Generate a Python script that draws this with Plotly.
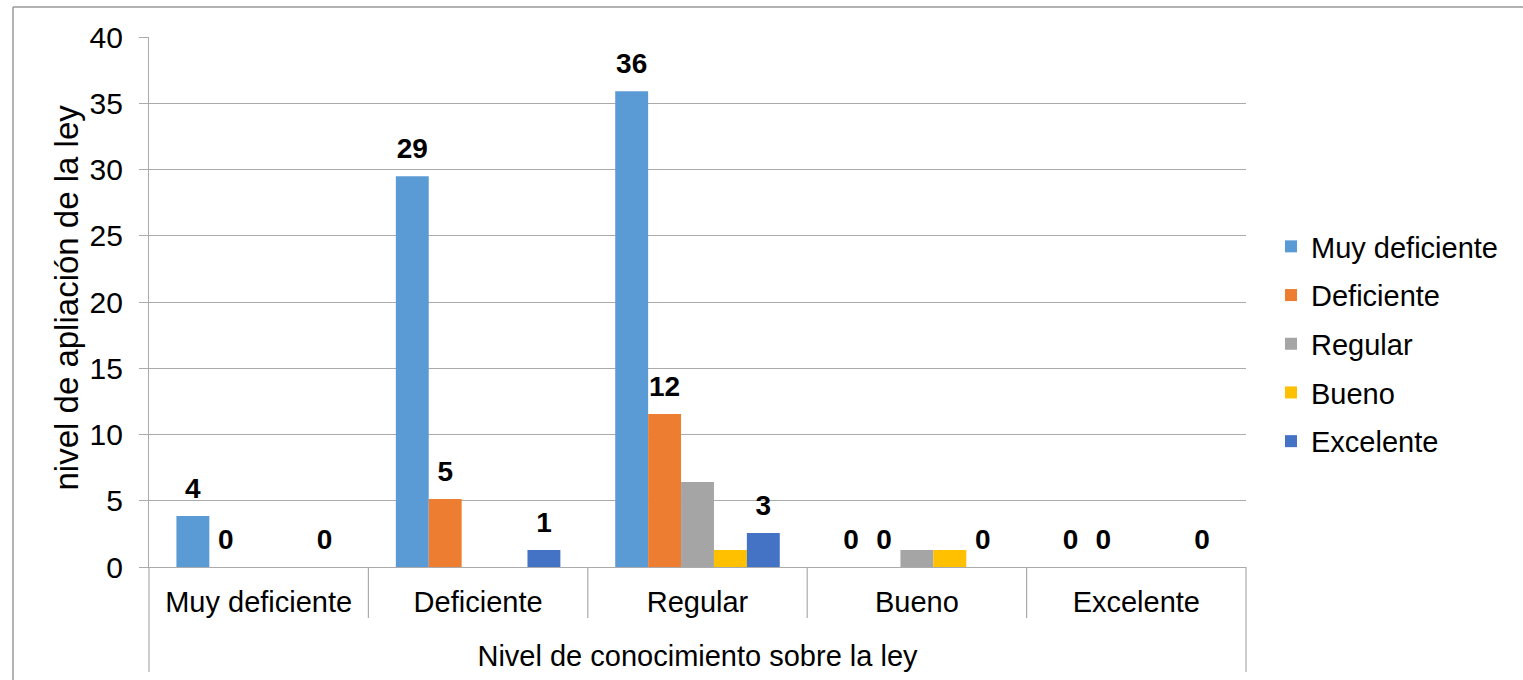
import plotly.graph_objects as go

categories = ["Muy deficiente", "Deficiente", "Regular", "Bueno", "Excelente"]
series_names = ["Muy deficiente", "Deficiente", "Regular", "Bueno", "Excelente"]
muy_deficiente = [3.85, 29.49, 35.90, 0, 0]
deficiente = [0, 5.13, 11.54, 0, 0]
regular = [0, 0, 6.41, 1.28, 0]
bueno = [0, 0, 1.28, 1.28, 0]
excelente = [0, 1.28, 2.56, 0, 0]
series_values = [muy_deficiente, deficiente, regular, bueno, excelente]
colors = ["#5B9BD5", "#ED7D31", "#A5A5A5", "#FFC000", "#4472C4"]
show_labels = [True, True, False, False, True]

y_title = "nivel de apliación de la ley"
x_title = "Nivel de conocimiento sobre la ley"

FONT = "Liberation Sans, Arial, sans-serif"
FS = 29
W, H = 1523, 680
L, R, T, B = 149, 1246, 37, 567
pw, ph = R - L, B - T

def px(x):
    return (x - L) / pw

def py(y):
    return (B - y) / ph

fig = go.Figure()
for i, (name, vals) in enumerate(zip(series_names, series_values)):
    fig.add_trace(go.Bar(
        x=categories, y=vals, name=name,
        marker=dict(color=colors[i], line=dict(width=0)),
        legendgroup=f"g{i}",
    ))
# data labels, grouped the same way as the bars
for i, (name, vals) in enumerate(zip(series_names, series_values)):
    fig.add_trace(go.Scatter(
        x=categories, y=vals, name=name + " labels",
        mode="markers+text" if show_labels[i] else "markers",
        texttemplate="<b>%{y:.0f}</b>" if show_labels[i] else None,
        textposition="top center",
        textfont=dict(family=FONT, size=FS - 1, color="black"),
        marker=dict(size=16, opacity=0, color="white"),
        showlegend=False, hoverinfo="skip",
        cliponaxis=False,
    ))

grid = "#ABABAB"
shapes = []
# outer chart border (top and left)
shapes.append(dict(type="line", xref="paper", yref="paper",
                   x0=px(13), x1=px(1523), y0=py(7), y1=py(7),
                   line=dict(color="#999999", width=1.5)))
shapes.append(dict(type="line", xref="paper", yref="paper",
                   x0=px(13), x1=px(13), y0=py(7), y1=py(680),
                   line=dict(color="#999999", width=1.5)))
# axis extensions for the outer group
for xx in (0, 1):
    shapes.append(dict(type="line", xref="paper", yref="paper",
                       x0=xx, x1=xx, y0=0, y1=py(672),
                       line=dict(color=grid, width=1.2)))
# category dividers
for k in range(len(categories) - 1):
    shapes.append(dict(type="line", xref="x", yref="paper",
                       x0=k + 0.5, x1=k + 0.5, y0=0, y1=py(618),
                       line=dict(color=grid, width=1.2)))

fig.update_layout(
    width=W, height=H,
    margin=dict(l=L, r=W - R, t=T, b=H - B, autoexpand=False),
    paper_bgcolor="white", plot_bgcolor="white",
    barmode="group", bargap=0.25, bargroupgap=0,
    scattermode="group", scattergap=0.25,
    font=dict(family=FONT, size=FS, color="black"),
    showlegend=True,
    legend=dict(
        x=px(1271), y=py(344), xanchor="left", yanchor="middle",
        font=dict(family=FONT, size=FS, color="black"),
        tracegroupgap=8, traceorder="grouped",
        bgcolor="rgba(0,0,0,0)",
    ),
    shapes=shapes,
    annotations=[dict(
        text=y_title, textangle=-90, showarrow=False,
        xref="paper", yref="paper", x=px(66), y=py(297.5),
        xanchor="center", yanchor="middle",
        font=dict(family=FONT, size=33, color="black"),
    )],
)
fig.update_xaxes(
    range=[-0.5, 4.5], showgrid=False, ticks="", showline=True,
    linecolor=grid, linewidth=1.2,
    tickfont=dict(family=FONT, size=FS, color="black"),
    ticklabelstandoff=9,
    title=dict(text=x_title, font=dict(family=FONT, size=FS, color="black"), standoff=28),
    automargin=False,
)
fig.update_yaxes(
    range=[0, 40], dtick=5, showgrid=True, gridcolor=grid, gridwidth=1.2,
    showline=True, linecolor=grid, linewidth=1.2,
    ticks="outside", ticklen=9, tickcolor=grid, tickwidth=1.2,
    tickfont=dict(family=FONT, size=FS + 1, color="black"),
    ticklabelstandoff=10,
    zeroline=False, automargin=False,
)

fig.write_html("out.html")
